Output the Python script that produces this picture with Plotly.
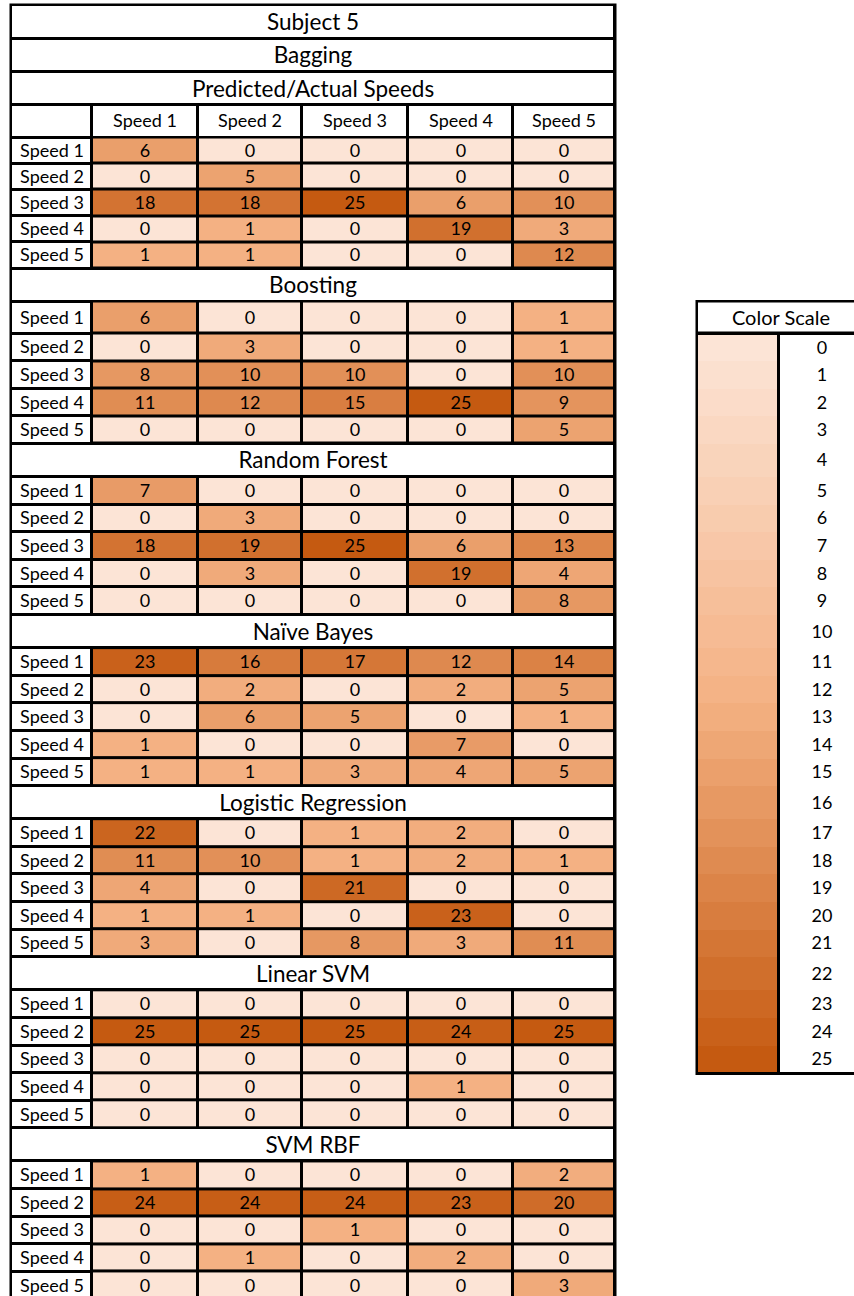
import plotly.graph_objects as go

# ---------------- data ----------------
speeds = ["Speed 1", "Speed 2", "Speed 3", "Speed 4", "Speed 5"]
models = ["Bagging", "Boosting", "Random Forest", "Naïve Bayes",
          "Logistic Regression", "Linear SVM", "SVM RBF"]

bagging = [[6, 0, 0, 0, 0],
           [0, 5, 0, 0, 0],
           [18, 18, 25, 6, 10],
           [0, 1, 0, 19, 3],
           [1, 1, 0, 0, 12]]
boosting = [[6, 0, 0, 0, 1],
            [0, 3, 0, 0, 1],
            [8, 10, 10, 0, 10],
            [11, 12, 15, 25, 9],
            [0, 0, 0, 0, 5]]
random_forest = [[7, 0, 0, 0, 0],
                 [0, 3, 0, 0, 0],
                 [18, 19, 25, 6, 13],
                 [0, 3, 0, 19, 4],
                 [0, 0, 0, 0, 8]]
naive_bayes = [[23, 16, 17, 12, 14],
               [0, 2, 0, 2, 5],
               [0, 6, 5, 0, 1],
               [1, 0, 0, 7, 0],
               [1, 1, 3, 4, 5]]
logistic_regression = [[22, 0, 1, 2, 0],
                       [11, 10, 1, 2, 1],
                       [4, 0, 21, 0, 0],
                       [1, 1, 0, 23, 0],
                       [3, 0, 8, 3, 11]]
linear_svm = [[0, 0, 0, 0, 0],
              [25, 25, 25, 24, 25],
              [0, 0, 0, 0, 0],
              [0, 0, 0, 1, 0],
              [0, 0, 0, 0, 0]]
svm_rbf = [[1, 0, 0, 0, 2],
           [24, 24, 24, 23, 20],
           [0, 0, 1, 0, 0],
           [0, 1, 0, 2, 0],
           [0, 0, 0, 0, 3]]
matrices = [bagging, boosting, random_forest, naive_bayes,
            logistic_regression, linear_svm, svm_rbf]

scale_values = list(range(26))
title_text = "Subject 5"
subtitle_text = "Predicted/Actual Speeds"
legend_title = "Color Scale"

# ---------------- layout constants ----------------
W, H = 854, 1296
FONT = "Lato, 'Open Sans', sans-serif"
BORDER = 3
TABLE_X = [11, 92, 198, 302, 408, 513, 615]
LEGEND_X = [697, 779, 865]
LIGHT, MID, DARK = "#fce4d6", "#f4b183", "#c55a11"
DATA_SCALE = [[0, LIGHT], [1 / 25, MID], [1, DARK]]
LEGEND_SCALE = [[0, LIGHT], [0.5, MID], [1, DARK]]
WHITE = [[0, "white"], [1, "white"]]
BLACK = [[0, "black"], [1, "black"]]
CELL_FONT = 18
TITLE_FONT = 22.5

# row structure
rows = [("title", title_text), ("title", models[0]), ("title", subtitle_text), ("header", "")]
heights = [33.5, 33.5, 33.0, 32.5]
for mi, m in enumerate(models):
    if mi > 0:
        rows.append(("title", m))
        heights.append(33.0)
    for r in range(5):
        rows.append(("data", speeds[r]))
        if mi == 0:
            heights.append(26.2)
        elif mi == 1 and r == 0:
            heights.append(32.0)
        else:
            heights.append(27.62)

edges = [5.0]
for h in heights:
    edges.append(edges[-1] + h)

fig = go.Figure()

def bg(x0, x1, y0, y1):
    fig.add_trace(go.Heatmap(x=[x0, x1], y=[y0, y1], z=[[0]], colorscale=BLACK,
                             zmin=0, zmax=1, showscale=False, hoverinfo="skip"))

# black backgrounds that show through gaps as borders
bg(TABLE_X[0] - BORDER / 2, TABLE_X[-1] + BORDER / 2, edges[0] - BORDER / 2, edges[-1] + BORDER / 2)

# full-width title rows
fig.add_trace(go.Heatmap(
    x=[TABLE_X[0], TABLE_X[-1]], y=edges,
    z=[[1] if k == "title" else [None] for k, _ in rows],
    text=[[t] if k == "title" else [""] for k, t in rows],
    texttemplate="%{text}", textfont=dict(family=FONT, size=TITLE_FONT, color="black"),
    colorscale=WHITE, zmin=0, zmax=1, showscale=False, hoverinfo="skip",
    xgap=BORDER, ygap=BORDER))

# header row
hi = [k for k, _ in rows].index("header")
fig.add_trace(go.Heatmap(
    x=TABLE_X, y=[edges[hi], edges[hi + 1]],
    z=[[1] * 6], text=[[""] + speeds],
    texttemplate="%{text}", textfont=dict(family=FONT, size=CELL_FONT, color="black"),
    colorscale=WHITE, zmin=0, zmax=1, showscale=False, hoverinfo="skip",
    xgap=BORDER, ygap=BORDER))

# label column
fig.add_trace(go.Heatmap(
    x=TABLE_X[:2], y=edges,
    z=[[1] if k == "data" else [None] for k, _ in rows],
    text=[[t] if k == "data" else [""] for k, t in rows],
    texttemplate="%{text}", textfont=dict(family=FONT, size=CELL_FONT, color="black"),
    colorscale=WHITE, zmin=0, zmax=1, showscale=False, hoverinfo="skip",
    xgap=BORDER, ygap=BORDER))

# data blocks
data_rows = [i for i, (k, _) in enumerate(rows) if k == "data"]
for mi, mat in enumerate(matrices):
    idx = data_rows[mi * 5:(mi + 1) * 5]
    ye = [edges[i] for i in idx] + [edges[idx[-1] + 1]]
    fig.add_trace(go.Heatmap(
        x=TABLE_X[1:], y=ye, z=mat,
        texttemplate="%{z}", textfont=dict(family=FONT, size=CELL_FONT, color="black"),
        colorscale=DATA_SCALE, zmin=0, zmax=25, showscale=False, hoverinfo="skip",
        xgap=BORDER, ygap=BORDER))

# ---------------- colour scale legend ----------------
lh = data_rows[5]          # legend header aligned with Boosting Speed 1 row
l0 = lh + 1
leg_edges = [edges[i] for i in range(l0, l0 + len(scale_values) + 1)]
bg(LEGEND_X[0] - BORDER / 2, LEGEND_X[-1] + BORDER / 2, edges[lh] - BORDER / 2, leg_edges[-1] + BORDER / 2)

fig.add_trace(go.Heatmap(
    x=[LEGEND_X[0], LEGEND_X[-1]], y=[edges[lh], edges[lh + 1]],
    z=[[1]], text=[[legend_title]],
    texttemplate="%{text}", textfont=dict(family=FONT, size=20, color="black"),
    colorscale=WHITE, zmin=0, zmax=1, showscale=False, hoverinfo="skip",
    xgap=BORDER, ygap=BORDER))

col_edges = list(leg_edges)
col_edges[0] += BORDER / 2
col_edges[-1] -= BORDER / 2
fig.add_trace(go.Heatmap(
    x=LEGEND_X[:2], y=col_edges, z=[[v] for v in scale_values],
    colorscale=LEGEND_SCALE, zmin=0, zmax=25, showscale=False, hoverinfo="skip",
    xgap=BORDER, ygap=0))
fig.add_trace(go.Heatmap(
    x=LEGEND_X[1:], y=col_edges, z=[[1] for _ in scale_values],
    text=[[str(v)] for v in scale_values],
    texttemplate="%{text}", textfont=dict(family=FONT, size=CELL_FONT, color="black"),
    colorscale=WHITE, zmin=0, zmax=1, showscale=False, hoverinfo="skip",
    xgap=BORDER, ygap=0))

fig.update_layout(
    width=W, height=H, margin=dict(l=0, r=0, t=0, b=0),
    paper_bgcolor="white", plot_bgcolor="white",
    xaxis=dict(range=[0, W], visible=False, fixedrange=True),
    yaxis=dict(range=[H, 0], visible=False, fixedrange=True),
    showlegend=False,
)
fig.write_html("out.html")
